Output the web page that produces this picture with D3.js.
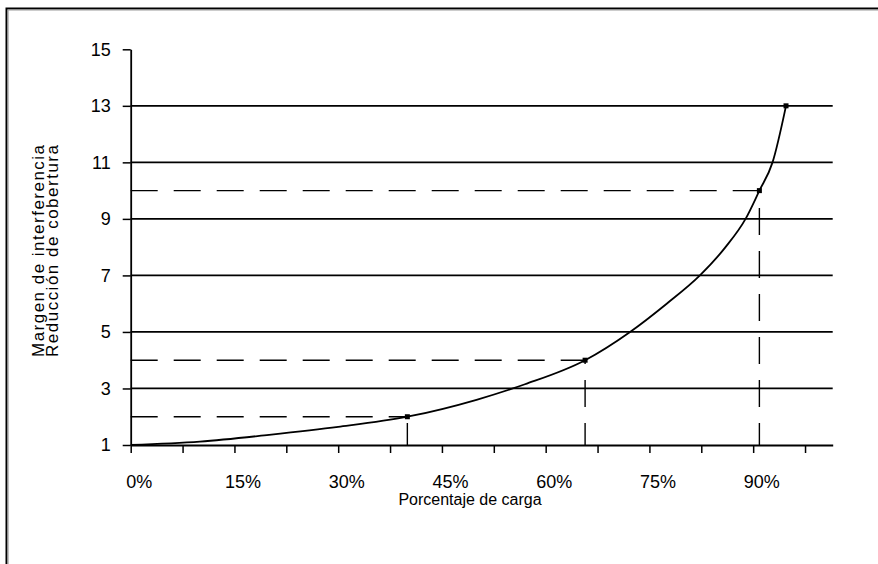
<!DOCTYPE html>
<html>
<head>
<meta charset="utf-8">
<script src="https://cdn.jsdelivr.net/npm/d3@7"></script>
<style>
  html, body { margin: 0; padding: 0; background: #fff; }
  svg { display: block; }
  text { font-family: "Liberation Sans", Arial, sans-serif; fill: #000; }
</style>
</head>
<body>
<svg id="chart" width="878" height="564"></svg>
<script>
// ---- data ----
const loadPct = [0, 10, 20, 30, 40, 50, 57, 65.7, 72.2, 77.5, 82.3, 86, 88.9, 90.9, 92.8, 94.75];
const margin  = [1.0, 1.12, 1.36, 1.64, 2.0, 2.6, 3.15, 4.0, 5.0, 6.0, 7.0, 8.0, 9.0, 10.0, 11.0, 13.0];
const markerPct    = [40.0, 65.7, 90.9, 94.75];
const markerMargin = [2, 4, 10, 13];
const guidePct    = [40.0, 65.7, 90.9];
const guideMargin = [2, 4, 10];
const xTickValues = [0, 7.5, 15, 22.5, 30, 37.5, 45, 52.5, 60, 67.5, 75, 82.5, 90, 97.5];
const xLabelValues = [0, 15, 30, 45, 60, 75, 90];
const yTickValues = [1, 3, 5, 7, 9, 11, 13, 15];
const gridValues  = [3, 5, 7, 9, 11, 13];
const xTitle = "Porcentaje de carga";
const yTitle1 = "Margen de  interferencia";
const yTitle2 = "Reducción de  cobertura";

// ---- drawing ----
const svg = d3.select("#chart");

// frame
svg.append("path").attr("d", "M6.5,564 V8.5 H878").attr("fill", "none").attr("stroke", "#000").attr("stroke-width", 2);
svg.append("path").attr("d", "M8,564 V10 H878").attr("fill", "none").attr("stroke", "#999").attr("stroke-width", 1.2);

const x = d3.scaleLinear().domain([0, 101.5]).range([130.7, 832.7]);
const y = d3.scaleLinear().domain([1, 15]).range([445, 49.3]);

// gridlines
svg.append("g").selectAll("line").data(gridValues).join("line")
  .attr("x1", x(0)).attr("x2", x(101.5))
  .attr("y1", d => y(d)).attr("y2", d => y(d))
  .attr("stroke", "#000").attr("stroke-width", 1.7);

// dashed guides
const dash = "27,16";
const guides = svg.append("g").attr("stroke", "#000").attr("stroke-width", 1.4).attr("stroke-dasharray", dash).attr("fill", "none");
guidePct.forEach((p, i) => {
  guides.append("line").attr("x1", x(0)).attr("x2", x(p)).attr("y1", y(guideMargin[i])).attr("y2", y(guideMargin[i]));
  guides.append("line").attr("x1", x(p)).attr("x2", x(p)).attr("y1", y(1)).attr("y2", y(guideMargin[i]))
    .attr("stroke-dashoffset", 5);
});

// curve
const line = d3.line().x((d, i) => x(loadPct[i])).y((d, i) => y(margin[i])).curve(d3.curveMonotoneX);
svg.append("path").attr("d", line(loadPct)).attr("fill", "none").attr("stroke", "#000").attr("stroke-width", 1.8);

// markers
svg.append("g").selectAll("rect").data(markerPct).join("rect")
  .attr("x", d => x(d) - 2.5).attr("y", (d, i) => y(markerMargin[i]) - 2.5)
  .attr("width", 5).attr("height", 5).attr("fill", "#000");

// axes
const yAxis = d3.axisLeft(y).tickValues(yTickValues).tickSize(8).tickSizeOuter(0).tickPadding(12).tickFormat(d3.format("d"));
const gy = svg.append("g").attr("transform", `translate(${x(0)},0)`).call(yAxis);
gy.selectAll("text").style("font-size", "18px");

const xAxis = d3.axisBottom(x).tickValues(xTickValues).tickSize(8).tickSizeOuter(0).tickPadding(22)
  .tickFormat(d => xLabelValues.includes(d) ? d + "%" : "");
const gx = svg.append("g").attr("transform", `translate(0,${y(1)})`).call(xAxis);
gx.selectAll("text").style("font-size", "18px").attr("dx", 8);

[gx, gy].forEach(g => {
  g.select(".domain").attr("stroke", "#000").attr("stroke-width", 1.8);
  g.selectAll(".tick line").attr("stroke", "#000").attr("stroke-width", 1.5);
});

// titles
svg.append("text").attr("x", 470).attr("y", 505).attr("text-anchor", "middle")
  .style("font-size", "16px").text(xTitle);
svg.append("text").attr("transform", "translate(44,251) rotate(-90)").attr("text-anchor", "middle")
  .attr("textLength", 212).attr("lengthAdjust", "spacing")
  .style("font-size", "17px").text(yTitle1);
svg.append("text").attr("transform", "translate(58,251) rotate(-90)").attr("text-anchor", "middle")
  .attr("textLength", 212).attr("lengthAdjust", "spacing")
  .style("font-size", "17px").text(yTitle2);
</script>
</body>
</html>
